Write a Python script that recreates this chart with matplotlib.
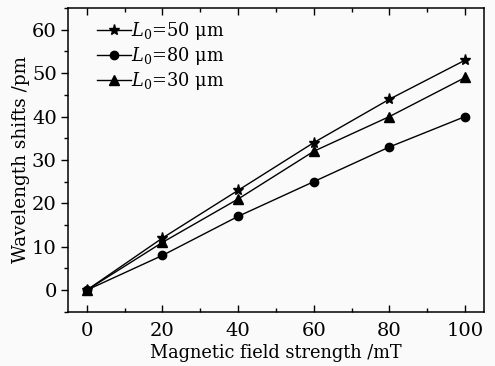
import numpy as np
import matplotlib.pyplot as plt
import matplotlib.ticker as mtick

plt.rcParams['font.family'] = 'DejaVu Serif'
plt.rcParams['mathtext.fontset'] = 'dejavuserif'

field = [0, 20, 40, 60, 80, 100]
shift_50 = [0, 12, 23, 34, 44, 53]
shift_80 = [0, 8, 17, 25, 33, 40]
shift_30 = [0, 11, 21, 32, 40, 49]

fig = plt.figure(figsize=(4.95, 3.66), dpi=100, facecolor='#fafafa')
ax = fig.add_axes([0.137, 0.148, 0.841, 0.83])
ax.set_facecolor('#fafafa')

ax.plot(field, shift_50, '-k', marker='*', markersize=8, linewidth=1.0, label=r'$L_0$=50 μm')
ax.plot(field, shift_80, '-k', marker='o', markersize=6, linewidth=1.0, label=r'$L_0$=80 μm')
ax.plot(field, shift_30, '-k', marker='^', markersize=6.5, linewidth=1.0, label=r'$L_0$=30 μm')

ax.set_xlim(-5, 105)
ax.set_ylim(-5, 65)
ax.set_xticks([0, 20, 40, 60, 80, 100])
ax.set_yticks([0, 10, 20, 30, 40, 50, 60])
ax.xaxis.set_minor_locator(mtick.MultipleLocator(10))
ax.yaxis.set_minor_locator(mtick.MultipleLocator(5))
ax.tick_params(axis='x', which='both', direction='in', top=True, labelsize=14, pad=7)
ax.tick_params(axis='y', which='both', direction='out', right=False, labelsize=14, pad=3)
ax.tick_params(which='major', length=5, width=1.0)
ax.tick_params(which='minor', length=3, width=1.0)
for s in ax.spines.values():
    s.set_linewidth(1.1)

ax.set_xlabel('Magnetic field strength /mT', fontsize=12.8, labelpad=3)
ax.set_ylabel('Wavelength shifts /pm', fontsize=13.2, labelpad=1)

ax.legend(loc='upper left', frameon=False, fontsize=12.8, handlelength=1.9,
          handletextpad=0.0, labelspacing=0.15, borderaxespad=0.3,
          bbox_to_anchor=(0.04, 1.0))

fig.savefig('out.png', dpi=100, facecolor=fig.get_facecolor())
